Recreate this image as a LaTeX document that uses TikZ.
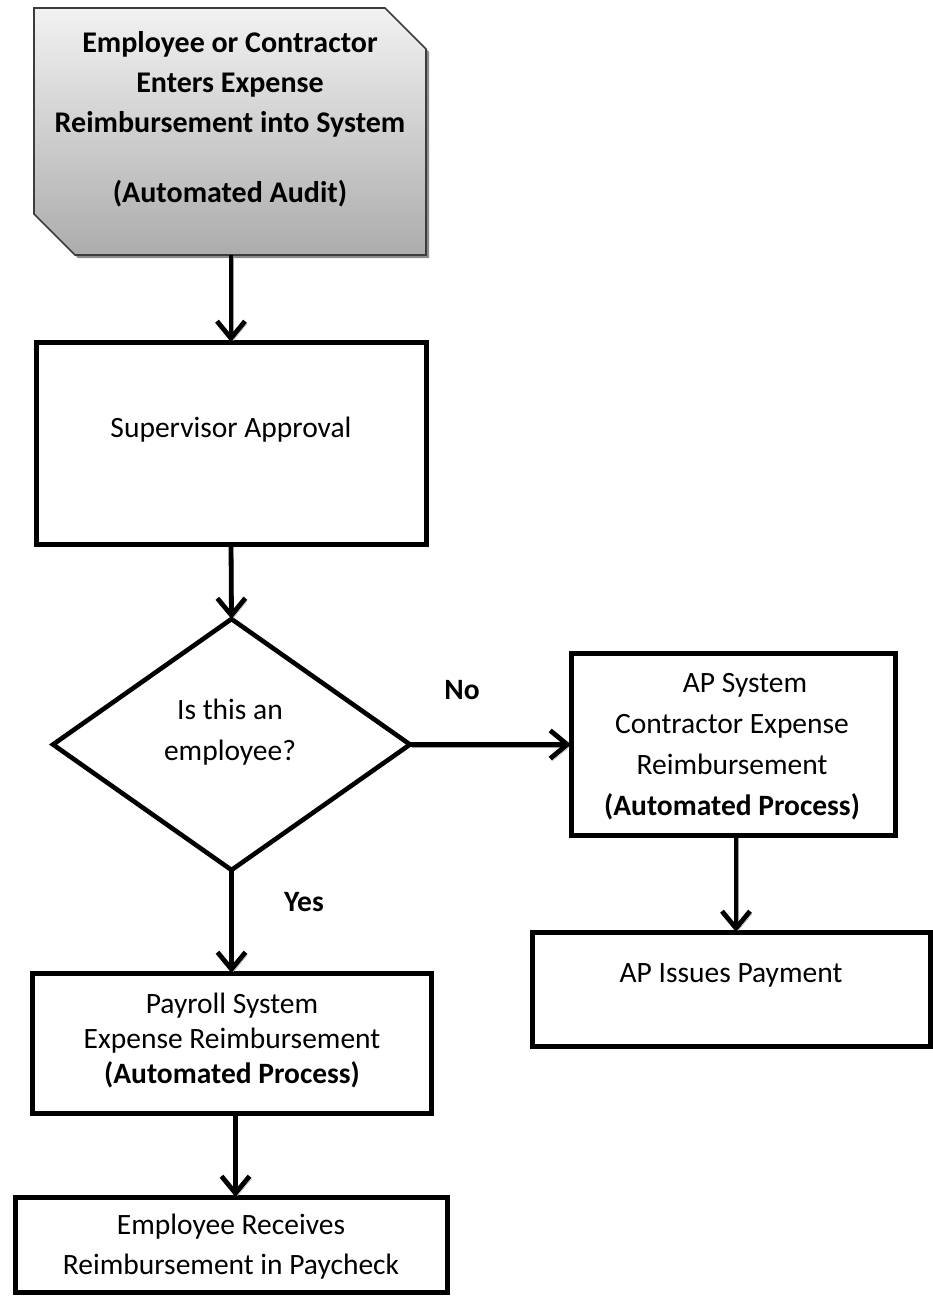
\documentclass[tikz,border=0pt]{standalone}
\usepackage{fontspec}
\setmainfont{Carlito}
\usetikzlibrary{arrows.meta,shapes.geometric}
\definecolor{shadelight}{RGB}{242,242,242}
\definecolor{shadedark}{RGB}{172,172,172}
\definecolor{edgegray}{RGB}{60,60,60}
\definecolor{shadowgray}{RGB}{140,140,140}
\definecolor{arrshadow}{RGB}{160,160,160}
\newcommand\myfs[1]{\fontsize{29.5}{#1}\selectfont}
\newcommand\myfsbig[1]{\fontsize{30}{#1}\selectfont}
\begin{document}
\begin{tikzpicture}[x=1pt,y=-1pt,
  boxnode/.style={draw=black,fill=white,line width=5pt,inner sep=0pt,outer sep=0pt},
  txt/.style={align=center,inner sep=0pt,text=black},
  arr/.style={line width=4.8pt,-{Straight Barb[length=17pt,width=28pt,line width=4.8pt]},
    preaction={draw=arrshadow,transform canvas={shift={(2pt,-2.5pt)}}}},
  lbl/.style={inner sep=0pt,font=\myfs{35}\bfseries}]
\useasboundingbox (0,0) rectangle (932,1296);

% top snipped box
\node[inner sep=0pt,outer sep=0pt,minimum width=392pt,minimum height=247pt] (top) at (231,131.5) {};
\fill[shadowgray,shift={(3,3)}] (34,8) -- (385,8) -- (426,49) -- (426,255) -- (75,255) -- (34,214) -- cycle;
\draw[edgegray,line width=1.6pt,top color=shadelight,bottom color=shadedark]
  (34,8) -- (385,8) -- (426,49) -- (426,255) -- (75,255) -- (34,214) -- cycle;
\node[txt,font=\myfsbig{40}\bfseries] (topT) at (230,119)
  {Employee or Contractor\\Enters Expense\\Reimbursement into System\\[30pt](Automated Audit)};

% supervisor
\node[boxnode,minimum width=390pt,minimum height=202pt] (sup) at (231,443) {};
\node[txt,font=\myfs{35}] (supT) at (231,430) {Supervisor Approval};

% decision
\node[diamond,draw=black,fill=white,line width=4.6pt,inner sep=0pt,outer sep=0pt,
  minimum width=357pt,minimum height=251pt] (dec) at (231.5,744.5) {};
\node[txt,font=\myfs{41}] (decT) at (230,732.5) {Is this an\\employee?};

% AP system
\node[boxnode,minimum width=324pt,minimum height=182pt] (ap) at (733,744) {};
\node[txt,font=\myfs{41}] (apT) at (732,746.5)
  {\hspace*{26pt}AP System\\Contractor Expense\\Reimbursement\\\textbf{(Automated Process)}};

% AP issues payment
\node[boxnode,minimum width=398pt,minimum height=114pt] (api) at (731,989) {};
\node[txt,font=\myfs{35}] (apiT) at (731,975) {AP Issues Payment};

% payroll
\node[boxnode,minimum width=399pt,minimum height=140pt] (pay) at (231.5,1043) {};
\node[txt,font=\myfs{35}] (payT) at (232,1040)
  {Payroll System\\Expense Reimbursement\\\textbf{(Automated Process)}};

% employee receives
\node[boxnode,minimum width=432pt,minimum height=95pt] (emp) at (231,1244.5) {};
\node[txt,font=\myfs{40}] (empT) at (231,1247)
  {Employee Receives\\Reimbursement in Paycheck};

% labels
\node[lbl] (no) at (462,690) {No};
\node[lbl] (yes) at (304,902) {Yes};

% connectors
\draw[arr] (top.south) -- (sup.north);
\draw[arr] (sup.south) -- (dec.north);
\draw[arr] (dec.east) -- (dec.east -| ap.west);
\draw[arr] (dec.south) -- (dec.south |- pay.north);
\draw[arr] ([xshift=4pt]pay.south) -- ([xshift=4pt]pay.south |- emp.north);
\draw[arr] ([xshift=3pt]ap.south) -- ([xshift=3pt]ap.south |- api.north);
\end{tikzpicture}
\end{document}
